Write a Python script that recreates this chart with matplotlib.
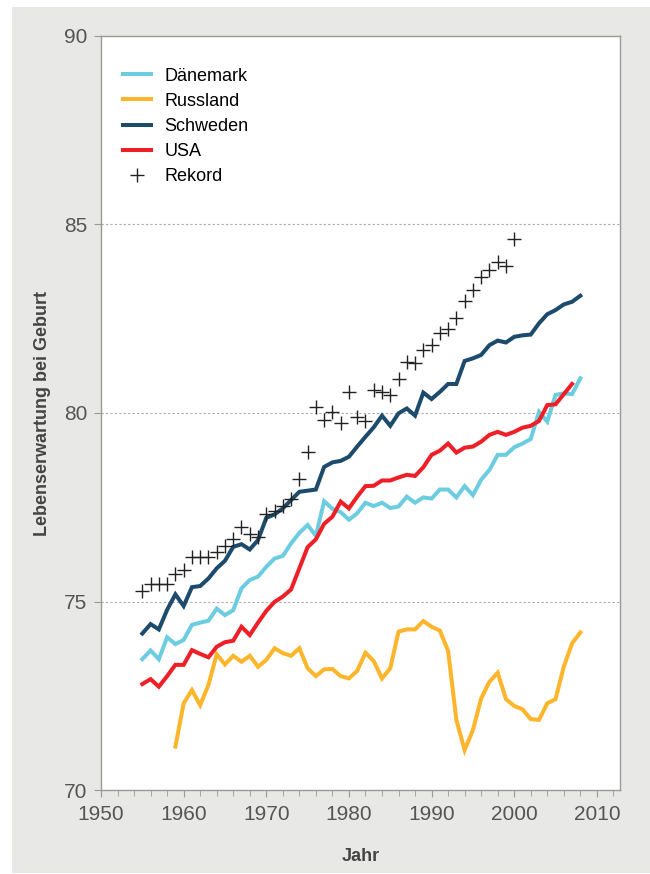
import numpy as np
import matplotlib.pyplot as plt
from matplotlib.patches import Rectangle
from matplotlib.ticker import MultipleLocator

plt.rcParams['font.family'] = ['Liberation Sans', 'DejaVu Sans']

# life expectancy at birth
years_dk = list(range(1955, 2009))
daenemark = [73.47, 73.70, 73.47, 74.05, 73.87, 73.98, 74.38, 74.44, 74.49, 74.81,
             74.64, 74.77, 75.35, 75.57, 75.66, 75.92, 76.14, 76.21, 76.54, 76.82,
             77.03, 76.74, 77.66, 77.46, 77.37, 77.17, 77.34, 77.62, 77.53, 77.62,
             77.48, 77.52, 77.78, 77.62, 77.76, 77.73, 77.97, 77.97, 77.76, 78.06,
             77.82, 78.23, 78.49, 78.89, 78.89, 79.09, 79.19, 79.31, 80.03, 79.77,
             80.48, 80.52, 80.50, 80.92]

years_ru = list(range(1959, 2009))
russland = [71.15, 72.30, 72.65, 72.25, 72.79, 73.60, 73.33, 73.56, 73.40, 73.56,
            73.27, 73.45, 73.76, 73.63, 73.56, 73.76, 73.23, 73.02, 73.20, 73.21,
            73.02, 72.96, 73.16, 73.64, 73.42, 72.96, 73.23, 74.20, 74.26, 74.26,
            74.48, 74.33, 74.23, 73.69, 71.86, 71.06, 71.59, 72.43, 72.87, 73.11,
            72.41, 72.23, 72.14, 71.88, 71.86, 72.30, 72.41, 73.27, 73.89, 74.18]

years_se = list(range(1955, 2009))
schweden = [74.15, 74.40, 74.26, 74.78, 75.19, 74.88, 75.38, 75.41, 75.61, 75.88,
            76.08, 76.45, 76.52, 76.38, 76.63, 77.22, 77.31, 77.47, 77.69, 77.91,
            77.94, 77.97, 78.57, 78.69, 78.73, 78.84, 79.11, 79.37, 79.62, 79.93,
            79.66, 79.99, 80.12, 79.93, 80.54, 80.37, 80.56, 80.77, 80.77, 81.38,
            81.45, 81.54, 81.80, 81.92, 81.87, 82.02, 82.06, 82.08, 82.38, 82.62,
            82.73, 82.88, 82.95, 83.11]

years_us = list(range(1955, 2008))
usa = [72.81, 72.94, 72.74, 73.02, 73.32, 73.32, 73.71, 73.61, 73.52, 73.80,
       73.92, 73.96, 74.33, 74.11, 74.44, 74.75, 74.99, 75.13, 75.32, 75.88,
       76.44, 76.65, 77.06, 77.25, 77.65, 77.47, 77.78, 78.06, 78.07, 78.21,
       78.21, 78.29, 78.36, 78.33, 78.56, 78.89, 79.00, 79.19, 78.95, 79.08,
       79.11, 79.24, 79.42, 79.50, 79.42, 79.50, 79.61, 79.66, 79.79, 80.21,
       80.23, 80.50, 80.77]

years_rek = list(range(1955, 2001))
rekord = [75.28, 75.46, 75.46, 75.46, 75.73, 75.84, 76.19, 76.19, 76.19, 76.30,
          76.47, 76.65, 76.98, 76.79, 76.70, 77.33, 77.40, 77.52, 77.72, 78.25,
          78.97, 80.15, 79.81, 80.02, 79.73, 80.55, 79.89, 79.79, 80.62, 80.57,
          80.48, 80.89, 81.36, 81.32, 81.67, 81.80, 82.11, 82.22, 82.51, 82.98,
          83.26, 83.60, 83.79, 84.01, 83.90, 84.61]

W, H = 650, 874
fig = plt.figure(figsize=(W / 100, H / 100), dpi=100)
fig.patch.set_facecolor('white')
fig.add_artist(Rectangle((12 / W, 1 / H), 1, (H - 8) / H, transform=fig.transFigure,
                         facecolor='#e8e8e6', edgecolor='none', zorder=-10))

ax = fig.add_axes([101 / W, 1 - 790 / H, 519 / W, 754 / H])
ax.set_facecolor('white')

lw = 2.9
ax.plot(years_dk, daenemark, color='#6dcde0', lw=lw, label='Dänemark', solid_joinstyle='miter')
ax.plot(years_ru, russland, color='#fdb52b', lw=lw, label='Russland', solid_joinstyle='miter')
ax.plot(years_se, schweden, color='#1c4b6c', lw=lw, label='Schweden', solid_joinstyle='miter')
ax.plot(years_us, usa, color='#ee1f26', lw=lw, label='USA', solid_joinstyle='miter')
ax.plot(years_rek, rekord, ls='none', marker='+', ms=10, mew=1.0, color='#222222',
        label='Rekord')

ax.set_xlim(1950, 2012.8)
ax.set_ylim(70, 90)
ax.set_xticks(range(1950, 2011, 10))
ax.xaxis.set_minor_locator(MultipleLocator(2))
ax.set_yticks([70, 75, 80, 85, 90])

for y in [75, 80, 85]:
    ax.axhline(y, color='#aaaaaa', lw=0.8, ls=(0, (2, 2)), zorder=0)

for sp in ax.spines.values():
    sp.set_color('#999999')
    sp.set_linewidth(1.0)

ax.tick_params(axis='both', which='both', direction='out', color='#999999',
               labelcolor='#555555')
ax.tick_params(axis='x', which='major', length=5, pad=6)
ax.tick_params(axis='x', which='minor', length=4)
ax.tick_params(axis='y', length=5, pad=5)
for lab in ax.get_xticklabels() + ax.get_yticklabels():
    lab.set_family(['Liberation Sans Narrow', 'Liberation Sans', 'DejaVu Sans'])
    lab.set_fontsize(15)

ax.set_xlabel('Jahr', fontsize=13, fontweight='bold', color='#444444', labelpad=17)
ax.set_ylabel('Lebenserwartung bei Geburt', fontsize=13, fontweight='bold',
              color='#444444', labelpad=9)

ax.legend(loc='upper left', bbox_to_anchor=(0.042, 0.958), frameon=False,
          fontsize=13, handlelength=1.55, handletextpad=0.75, labelspacing=0.45,
          borderpad=0, borderaxespad=0)

fig.savefig('out.png', dpi=100)
